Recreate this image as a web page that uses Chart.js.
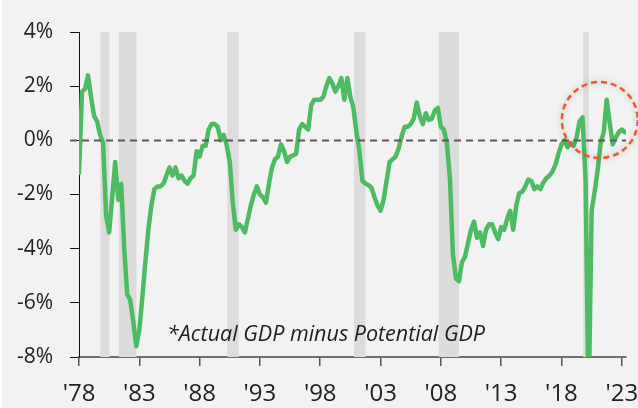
<!DOCTYPE html>
<html>
<head>
<meta charset="utf-8">
<script src="https://cdn.jsdelivr.net/npm/chart.js@4.4.1/dist/chart.umd.min.js"></script>
<style>
  html, body { margin: 0; padding: 0; background: #ffffff; }
  #wrap { width: 638px; height: 408px; }
</style>
</head>
<body>
<div id="wrap"><canvas id="gap" width="638" height="408"></canvas></div>
<script>
// output gap (actual GDP minus potential), quarterly, 1978Q1 .. 2023Q2
var years = [];
for (var yr = 1978; yr <= 2023; yr++) years.push(yr);

var gap = [
    -1.2, 1.8, 1.9, 2.4,      // 1978
    1.6, 0.9, 0.7, 0.2,       // 1979
    -0.1, -2.8, -3.4, -2.1,   // 1980
    -0.8, -2.2, -1.6, -4.0,   // 1981
    -5.7, -5.9, -6.7, -7.6,   // 1982
    -7.0, -5.8, -4.5, -3.3,   // 1983
    -2.4, -1.8, -1.7, -1.7,   // 1984
    -1.6, -1.3, -1.0, -1.3,   // 1985
    -1.0, -1.4, -1.3, -1.5,   // 1986
    -1.6, -1.4, -1.3, -0.4,   // 1987
    -0.6, -0.2, -0.2, 0.4,    // 1988
    0.6, 0.6, 0.5, 0.0,       // 1989
    0.2, -0.2, -0.8, -2.3,    // 1990
    -3.3, -3.1, -3.2, -3.4,   // 1991
    -2.9, -2.4, -2.0, -1.7,   // 1992
    -2.0, -2.1, -2.3, -1.6,   // 1993
    -1.0, -0.7, -0.6, -0.15,  // 1994
    -0.4, -0.8, -0.6, -0.55,  // 1995
    -0.5, 0.4, 0.6, 0.5,      // 1996
    0.4, 1.3, 1.5, 1.5,       // 1997
    1.5, 1.6, 2.0, 2.3,       // 1998
    2.1, 1.8, 2.0, 2.3,       // 1999
    1.5, 2.3, 1.6, 1.2,       // 2000
    0.3, -0.4, -1.5, -1.6,    // 2001
    -1.65, -1.75, -2.1, -2.4, // 2002
    -2.6, -2.2, -1.5, -0.8,   // 2003
    -0.7, -0.6, -0.3, 0.15,   // 2004
    0.5, 0.5, 0.6, 0.8,       // 2005
    1.4, 0.9, 0.6, 1.0,       // 2006
    0.75, 0.8, 1.1, 1.2,      // 2007
    0.5, 0.4, -0.1, -1.4,     // 2008
    -4.2, -5.1, -5.2, -4.5,   // 2009
    -4.3, -3.8, -3.3, -3.0,   // 2010
    -3.6, -3.4, -3.9, -3.3,   // 2011
    -3.1, -3.1, -3.4, -3.65,  // 2012
    -3.2, -3.3, -2.9, -2.6,   // 2013
    -3.3, -2.4, -1.95, -1.9,  // 2014
    -1.7, -1.45, -1.5, -1.8,  // 2015
    -1.7, -1.8, -1.55, -1.4,  // 2016
    -1.3, -1.15, -0.9, -0.5,  // 2017
    -0.15, 0.0, -0.25, -0.1,  // 2018
    -0.2, 0.1, 0.7, 0.85,     // 2019
    -1.5, -9.9, -2.6, -1.9,   // 2020
    -1.1, -0.1, 0.3, 1.5,     // 2021
    0.65, -0.15, 0.1, 0.3,    // 2022
    0.4, 0.3                  // 2023
];

// recession shading (start, end) in years
var recessions = [
    [1979.77, 1980.52],
    [1981.29, 1982.76],
    [1990.30, 1991.24],
    [2000.80, 2001.75],
    [2007.83, 2009.50],
    [2019.80, 2020.27]
];

var xTickYears = [1978, 1983, 1988, 1993, 1998, 2003, 2008, 2013, 2018, 2023];
var yTicks = [-8, -6, -4, -2, 0, 2, 4];
var note = '*Actual GDP minus Potential GDP';
var circleAt = { x: 2021.18, y: 0.75 };

// quarter dates for each value
var points = gap.map(function (v, i) {
    var y = years[Math.floor(i / 4)];
    return { x: y + (i % 4) / 4, y: v };
});

var FONT = "'Open Sans', 'Noto Sans', sans-serif";

var backdrop = {
    id: 'backdrop',
    beforeDraw: function (chart) {
        var ctx = chart.ctx;
        ctx.save();
        ctx.fillStyle = '#f2f2f2';
        ctx.fillRect(2, 0, chart.width - 2, chart.height);
        ctx.restore();
    },
    beforeDatasetsDraw: function (chart) {
        var ctx = chart.ctx, xs = chart.scales.x, a = chart.chartArea;
        ctx.save();
        ctx.fillStyle = '#dcdcdc';
        recessions.forEach(function (r) {
            var x1 = xs.getPixelForValue(r[0]);
            var x2 = xs.getPixelForValue(r[1]);
            ctx.fillRect(x1, a.top, x2 - x1, a.bottom - a.top);
        });
        ctx.restore();
    },
    afterDatasetsDraw: function (chart) {
        var ctx = chart.ctx, ys = chart.scales.y, a = chart.chartArea;
        var y0 = Math.round(ys.getPixelForValue(0)) + 0.5;
        ctx.save();
        ctx.strokeStyle = '#5a5a5a';
        ctx.lineWidth = 1.8;
        ctx.setLineDash([7, 5]);
        ctx.beginPath();
        ctx.moveTo(a.left - 9, y0);
        ctx.lineTo(a.right, y0);
        ctx.stroke();
        ctx.restore();
    },
    afterDraw: function (chart) {
        var ctx = chart.ctx, xs = chart.scales.x, ys = chart.scales.y;
        // highlight circle
        var cx = xs.getPixelForValue(circleAt.x);
        var cy = ys.getPixelForValue(circleAt.y);
        ctx.save();
        ctx.shadowColor = 'rgba(0,0,0,0.28)';
        ctx.shadowBlur = 6;
        ctx.strokeStyle = '#eb5a2a';
        ctx.lineWidth = 2.5;
        ctx.setLineDash([6, 4]);
        ctx.beginPath();
        ctx.arc(cx, cy, 38, 0, Math.PI * 2);
        ctx.stroke();
        ctx.restore();

        // footnote
        ctx.save();
        ctx.font = 'italic 21.5px ' + FONT;
        ctx.fillStyle = '#1e1e1e';
        ctx.textAlign = 'center';
        ctx.textBaseline = 'alphabetic';
        ctx.fillText(note, 326, 341);
        ctx.restore();
    }
};

new Chart(document.getElementById('gap'), {
    type: 'line',
    data: {
        datasets: [{
            data: points,
            borderColor: '#4dbb61',
            borderWidth: 4.5,
            pointRadius: 0,
            tension: 0,
            borderJoinStyle: 'round',
            borderCapStyle: 'round',
            fill: false
        }]
    },
    options: {
        responsive: false,
        animation: false,
        devicePixelRatio: 1,
        layout: { padding: { top: 32, right: 12, left: 0, bottom: 0 } },
        plugins: {
            legend: { display: false },
            tooltip: { enabled: false }
        },
        scales: {
            x: {
                type: 'linear',
                min: 1978,
                max: 2023.35,
                afterFit: function (s) {
                    s.height = 51;
                    s.paddingLeft = 0;
                    s.paddingRight = 0;
                },
                afterBuildTicks: function (s) {
                    s.ticks = xTickYears.map(function (v) { return { value: v }; });
                },
                ticks: {
                    autoSkip: false,
                    maxRotation: 0,
                    padding: 14,
                    color: '#222',
                    font: { family: FONT, size: 24 },
                    callback: function (v) { return "'" + String(v).slice(2); }
                },
                grid: { drawOnChartArea: false, tickLength: 9, color: '#555', lineWidth: 1.5 },
                border: { color: '#6e6e6e', width: 2 }
            },
            y: {
                min: -8,
                max: 4,
                afterFit: function (s) {
                    s.width = 79;
                    s.paddingTop = 0;
                    s.paddingBottom = 0;
                },
                afterBuildTicks: function (s) {
                    s.ticks = yTicks.map(function (v) { return { value: v }; });
                },
                ticks: {
                    padding: 17,
                    color: '#222',
                    font: { family: FONT, size: 21 },
                    callback: function (v) { return v + '%'; }
                },
                grid: { drawOnChartArea: false, tickLength: 9, color: '#111', lineWidth: 1 },
                border: { color: '#111', width: 1 }
            }
        }
    },
    plugins: [backdrop]
});
</script>
</body>
</html>
